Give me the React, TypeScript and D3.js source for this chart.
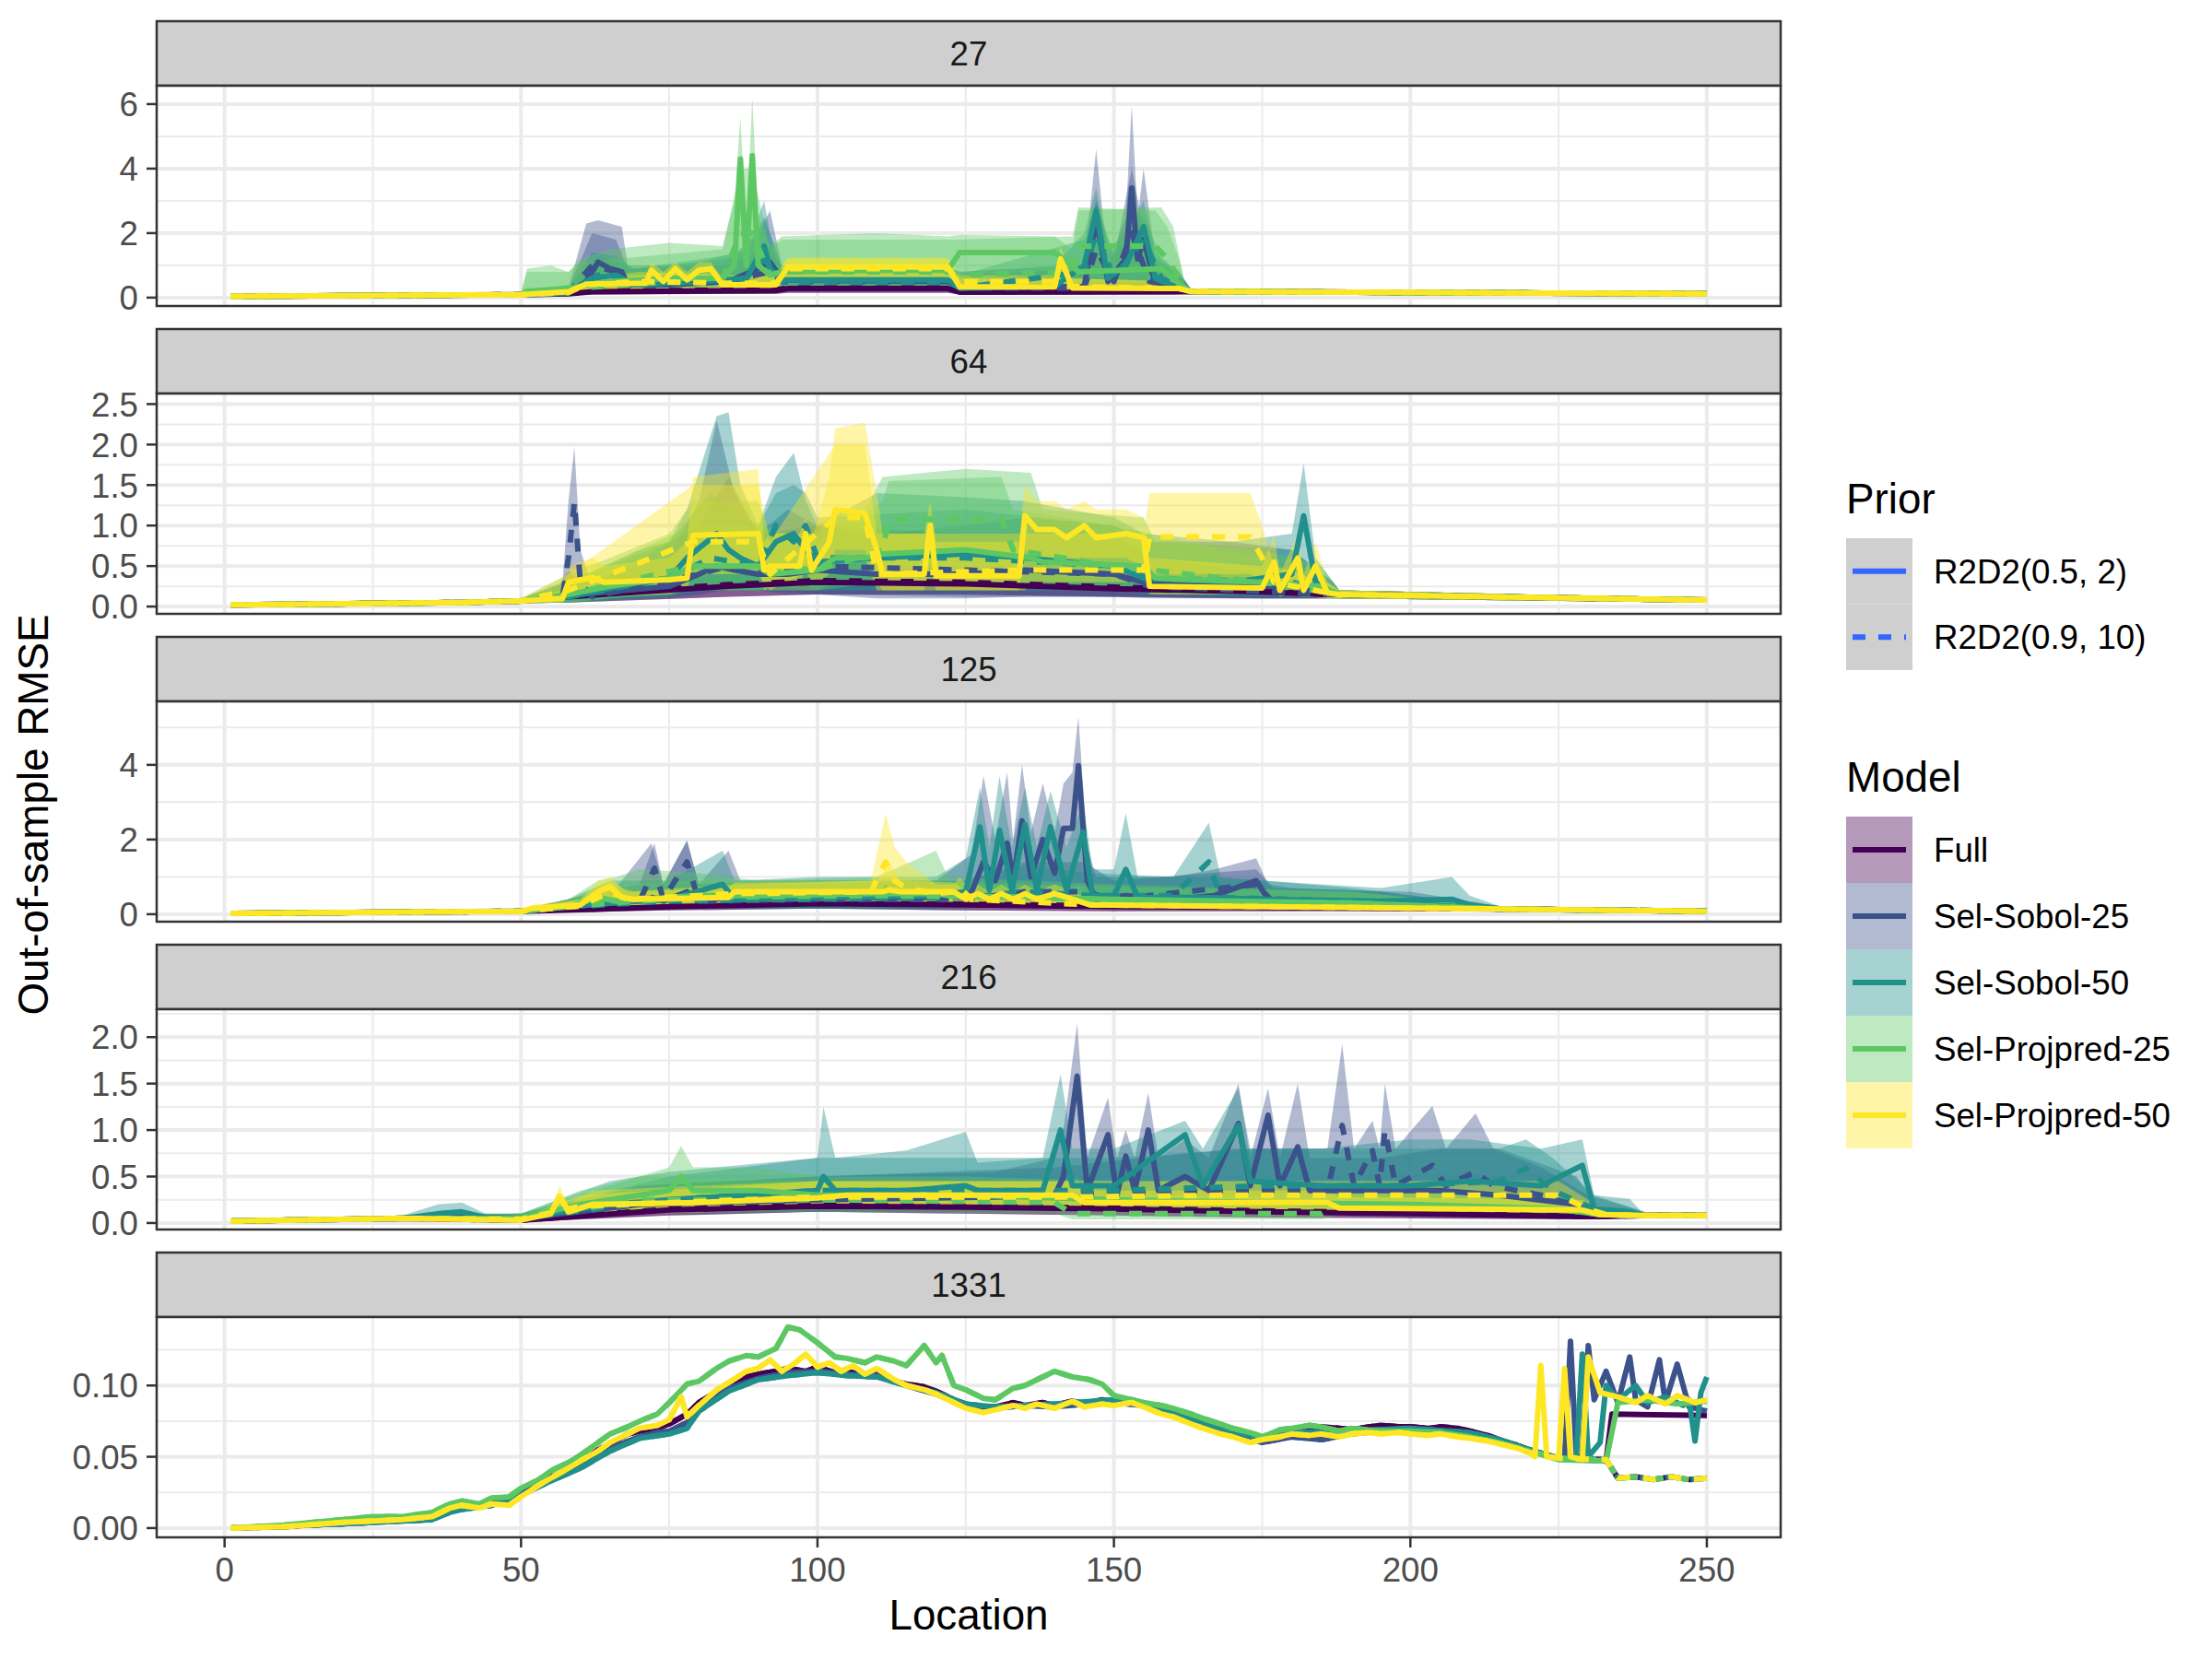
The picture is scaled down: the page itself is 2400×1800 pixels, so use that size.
import React from 'react';
import * as d3 from 'd3';

type Pt = number[];

const facets = ['27', '64', '125', '216', '1331'];
const models = ['Full', 'Sel-Sobol-25', 'Sel-Sobol-50', 'Sel-Projpred-25', 'Sel-Projpred-50'];
const modelColors = ['#440154', '#3B528B', '#21908C', '#5DC863', '#FDE725'];
const priors = ['R2D2(0.5, 2)', 'R2D2(0.9, 10)'];

const xTicks = [0, 50, 100, 150, 200, 250];
const xMinor = [25, 75, 125, 175, 225];
const yTicks = [
  [0, 2, 4, 6],
  [0, 0.5, 1, 1.5, 2, 2.5],
  [0, 2, 4],
  [0, 0.5, 1, 1.5, 2],
  [0, 0.05, 0.1],
];
const yLabels = [
  ['0', '2', '4', '6'],
  ['0.0', '0.5', '1.0', '1.5', '2.0', '2.5'],
  ['0', '2', '4'],
  ['0.0', '0.5', '1.0', '1.5', '2.0'],
  ['0.00', '0.05', '0.10'],
];
const yMinor = [
  [1, 3, 5],
  [0.25, 0.75, 1.25, 1.75, 2.25],
  [1, 3, 5],
  [0.25, 0.75, 1.25, 1.75, 2.25],
  [0.025, 0.075, 0.125],
];
const yDomains = [
  [-0.26, 6.57],
  [-0.09, 2.63],
  [-0.2, 5.7],
  [-0.07, 2.3],
  [-0.0065, 0.148],
];

// ---- facet 27 : [location, lower, estimate, upper] ----
const s27: Pt[] = [[1, .02, .04, .07], [50, .05, .09, .14]];
const e27: Pt[] = [[163, .12, .19, .27], [250, .08, .12, .16]];
const rmse27: Pt[][] = [
  // Full, R2D2(0.5, 2)
  [...s27, [58, .08, .12, .2], [62, .1, .18, .4], [93, .12, .22, .5], [95, .15, .28, .6], [122, .15, .28, .6], [124, .1, .17, .4], [160, .1, .18, .45], ...e27],
  // Full, R2D2(0.9, 10)
  [...s27, [58, .08, .13, .2], [62, .1, .2, .5], [93, .12, .24, .6], [95, .15, .3, .7], [122, .15, .3, .7], [124, .1, .18, .5], [160, .1, .2, .5], ...e27],
  // Sel-Sobol-25
  [...s27, [58, .1, .15, .3], [61, .2, .5, 2.3], [63, .3, 1.1, 2.4], [65, .3, .9, 2.3], [67, .3, .8, 2.2], [68, .2, .4, 1.0], [75, .2, .4, 1.0], [85, .2, .5, 1.2], [90, .3, .9, 2.0], [92, .3, 1.1, 2.7], [94, .3, .55, 1.0], [122, .3, .5, .95], [124, .15, .3, .8], [145, .2, .35, 1.0], [147, .3, 2.4, 4.6], [149, .2, .5, 1.0], [152, .3, 1.2, 2.5], [153, .5, 3.4, 5.95], [154, .3, 1.2, 2.5], [155, .4, 1.8, 4.0], [157, .2, .4, 1.2], [161, .15, .3, .8], ...e27],
  [...s27, [58, .1, .15, .3], [62, .3, 1.0, 2.0], [66, .3, .8, 1.8], [68, .2, .4, .9], [85, .2, .5, 1.0], [92, .3, .8, 1.6], [94, .3, .5, .9], [122, .3, .5, .9], [124, .15, .3, .7], [145, .2, .3, .9], [147, .3, 1.5, 3.0], [150, .2, .5, 1.2], [153, .4, 2.0, 4.0], [156, .2, .5, 1.2], [161, .15, .3, .7], ...e27],
  // Sel-Sobol-50
  [...s27, [58, .1, .15, .3], [62, .2, .6, 1.4], [66, .2, .7, 1.3], [69, .2, .4, .9], [80, .2, .5, 1.1], [88, .3, .6, 1.5], [91, .3, 1.6, 3.0], [92, .3, .9, 2.0], [94, .3, .55, 1.0], [122, .3, .55, 1.0], [124, .15, .3, .8], [140, .2, .35, 1.0], [145, .3, 1.0, 2.0], [147, .4, 2.7, 3.4], [149, .3, .6, 1.5], [152, .3, 1.0, 2.0], [155, .4, 2.2, 3.0], [157, .3, .6, 1.4], [161, .15, .3, .8], ...e27],
  [...s27, [58, .1, .15, .3], [63, .2, .7, 1.3], [69, .2, .4, .9], [88, .3, .6, 1.4], [91, .3, 1.2, 2.5], [94, .3, .5, .9], [122, .3, .5, .9], [124, .15, .3, .7], [145, .3, .8, 1.8], [147, .4, 2.0, 3.0], [150, .3, .6, 1.3], [155, .4, 1.8, 2.6], [158, .3, .6, 1.2], [161, .15, .3, .7], ...e27],
  // Sel-Projpred-25
  [...s27, [51, .1, .2, .9], [55, .15, .25, 1.0], [58, .15, .3, .8], [60, .2, .35, 1.2], [65, .25, .5, 1.5], [75, .3, .6, 1.7], [84, .3, .6, 1.6], [86, .4, 1.0, 3.0], [87, .8, 4.3, 5.6], [88, .6, 1.0, 2.0], [89, .9, 4.4, 6.2], [90, .5, 1.0, 2.5], [92, .3, .7, 1.6], [94, .3, .8, 1.9], [110, .3, .85, 2.0], [122, .3, .85, 1.9], [124, .5, 1.4, 1.95], [140, .5, 1.4, 1.9], [143, .3, 1.0, 1.5], [144, .3, .8, 2.7], [158, .3, .9, 2.8], [160, .2, .6, 2.2], [162, .15, .25, .4], ...e27],
  [...s27, [51, .1, .15, .8], [58, .15, .3, .8], [60, .2, .3, 1.1], [84, .3, .6, 1.5], [87, .6, 2.0, 4.0], [89, .6, 2.0, 4.0], [92, .3, .7, 1.5], [94, .3, .8, 1.8], [122, .3, .8, 1.8], [124, .3, .7, 1.8], [143, .3, .8, 1.9], [144, .5, 1.6, 2.8], [157, .5, 1.6, 2.7], [159, .4, 1.2, 2.2], [161, .2, .6, 1.2], [162, .15, .25, .4], ...e27],
  // Sel-Projpred-50
  [...s27, [58, .1, .18, .25], [61, .25, .42, .6], [71, .25, .45, .7], [72, .5, .85, 1.1], [74, .3, .5, .8], [76, .5, .9, 1.1], [78, .3, .55, .8], [80, .5, .85, 1.1], [82, .5, .9, 1.1], [84, .25, .4, .6], [93, .25, .4, .7], [95, .65, .95, 1.25], [122, .65, .95, 1.24], [124, .2, .33, .6], [140, .2, .33, .6], [141, .5, 1.2, 1.6], [143, .2, .3, .6], [161, .18, .28, .5], ...e27],
  [...s27, [58, .1, .16, .22], [61, .2, .4, .6], [70, .25, .5, .8], [84, .25, .45, .7], [93, .25, .45, .7], [95, .6, .9, 1.2], [122, .6, .9, 1.2], [124, .3, .5, .7], [140, .3, .5, .7], [142, .2, .35, .6], [161, .18, .28, .5], ...e27],
];

// ---- facet 64 ----
const s64: Pt[] = [[1, .01, .02, .03], [40, .03, .05, .07], [50, .04, .07, .1]];
const e64: Pt[] = [[188, .1, .15, .2], [250, .05, .08, .1]];
const rmse64: Pt[][] = [
  [...s64, [58, .05, .12, .2], [70, .08, .18, .3], [85, .12, .25, .4], [100, .15, .3, .45], [125, .15, .28, .42], [150, .12, .22, .35], [175, .1, .18, .3], [186, .1, .15, .25], ...e64],
  [...s64, [58, .05, .13, .22], [70, .08, .2, .32], [85, .12, .27, .42], [100, .15, .32, .48], [125, .15, .3, .45], [150, .12, .24, .38], [175, .1, .19, .32], [186, .1, .15, .25], ...e64],
  [...s64, [56, .05, .1, .2], [58, .08, .2, .45], [60, .08, .15, .3], [75, .1, .25, .6], [80, .15, .4, 1.3], [83, .2, .5, 2.3], [86, .2, .45, 1.4], [90, .2, .4, .9], [95, .15, .4, 1.2], [100, .15, .45, 1.0], [110, .1, .4, .9], [125, .1, .4, 1.0], [135, .12, .45, 1.1], [150, .12, .4, 1.0], [155, .12, .3, .8], [170, .1, .25, .8], [180, .1, .25, .7], [187, .1, .18, .3], ...e64],
  [...s64, [57, .05, .12, .3], [58, .1, .6, 1.3], [59, .3, 1.29, 1.97], [60, .1, .3, .7], [62, .07, .12, .25], [80, .15, .4, 1.0], [85, .2, .5, 1.6], [90, .2, .45, .9], [100, .15, .5, 1.0], [125, .12, .45, .9], [150, .12, .4, .9], [156, .1, .25, .6], [186, .1, .15, .3], ...e64],
  [...s64, [58, .05, .12, .3], [70, .1, .3, .7], [75, .12, .35, .8], [78, .2, .6, 1.2], [83, .3, .9, 2.35], [85, .3, .7, 2.4], [87, .2, .6, 1.5], [90, .2, .5, 1.0], [93, .25, .8, 1.6], [96, .3, .9, 1.9], [98, .25, .7, 1.3], [100, .2, .55, 1.0], [110, .2, .6, 1.4], [125, .2, .65, 1.35], [135, .2, .6, 1.3], [150, .2, .5, 1.1], [155, .15, .35, .9], [170, .12, .3, .8], [180, .12, .4, .9], [182, .4, 1.12, 1.77], [184, .12, .3, .6], [187, .1, .17, .3], ...e64],
  [...s64, [58, .05, .12, .3], [75, .12, .35, .8], [82, .2, .6, 1.4], [90, .2, .5, 1.0], [93, .3, 1.0, 1.4], [96, .3, .8, 1.5], [98, .3, 1.0, 1.4], [100, .2, .6, 1.1], [125, .2, .6, 1.2], [150, .2, .5, 1.0], [156, .15, .35, .8], [180, .12, .3, .7], [187, .1, .17, .3], ...e64],
  [...s64, [58, .05, .15, .4], [65, .1, .25, .6], [75, .15, .35, .9], [79, .2, .5, 1.3], [90, .2, .5, 1.3], [92, .2, .4, .9], [100, .2, .45, .9], [103, .3, .6, 1.2], [108, .3, .6, 1.2], [111, .3, .65, 1.6], [125, .3, .7, 1.7], [136, .3, .6, 1.65], [138, .25, .55, 1.2], [155, .25, .5, 1.1], [157, .15, .35, .8], [175, .15, .3, .7], [185, .12, .25, .5], ...e64],
  [...s64, [58, .05, .15, .3], [79, .2, .5, 1.0], [90, .2, .5, 1.0], [100, .2, .45, .8], [111, .3, .7, 1.3], [112, .5, 1.08, 1.55], [131, .5, 1.08, 1.6], [133, .3, .7, 1.2], [150, .25, .5, 1.0], [156, .2, .45, .9], [175, .15, .3, .6], ...e64],
  [...s64, [57, .05, .1, .2], [58, .12, .3, .5], [62, .12, .36, .6], [64, .12, .3, .5], [75, .15, .33, .6], [78, .2, .35, .8], [79, .5, .88, 1.6], [90, .5, .9, 1.7], [91, .2, .45, .8], [92, .25, .5, .9], [97, .25, .5, .9], [98, .5, .9, 1.1], [99, .25, .45, .8], [102, .4, .8, 1.6], [103, .7, 1.2, 2.2], [108, .7, 1.15, 2.27], [110, .3, .7, 1.4], [111, .2, .4, .9], [118, .2, .4, .9], [119, .5, 1.0, 1.3], [120, .2, .38, .8], [134, .2, .38, .8], [135, .7, 1.12, 1.5], [137, .6, .95, 1.3], [140, .6, .95, 1.3], [142, .6, .85, 1.2], [145, .6, 1.0, 1.3], [147, .6, .85, 1.2], [152, .6, .9, 1.2], [155, .5, .85, 1.1], [156, .15, .25, .6], [175, .15, .23, .5], [177, .2, .55, .9], [178, .12, .2, .4], [181, .2, .6, .9], [182, .12, .2, .4], [184, .2, .5, .8], [186, .1, .17, .3], ...e64],
  [...s64, [58, .1, .2, .4], [79, .4, .8, 1.5], [90, .4, .8, 1.5], [92, .2, .4, .8], [103, .6, 1.1, 2.0], [108, .6, 1.1, 2.0], [110, .2, .4, .9], [135, .2, .45, .9], [136, .3, .45, .9], [155, .3, .45, .9], [156, .4, .86, 1.4], [173, .4, .86, 1.4], [175, .3, .6, 1.0], [177, .15, .3, .5], [186, .1, .17, .3], ...e64],
];

// ---- facet 125 ----
const s125: Pt[] = [[1, .01, .02, .04], [50, .05, .08, .12]];
const e125: Pt[] = [[215, .08, .14, .22], [250, .05, .08, .12]];
const rmse125: Pt[][] = [
  [...s125, [60, .05, .12, .25], [75, .1, .2, .4], [100, .15, .28, .5], [125, .1, .25, .5], [150, .08, .2, .45], [175, .08, .18, .4], ...e125],
  [...s125, [60, .05, .13, .28], [75, .1, .22, .42], [100, .15, .3, .52], [125, .1, .27, .52], [150, .08, .22, .45], [175, .08, .19, .4], ...e125],
  [...s125, [58, .1, .2, .4], [66, .15, .3, .7], [72, .2, .45, 1.9], [74, .15, .35, .8], [78, .2, .6, 1.97], [80, .15, .35, .8], [85, .2, .45, 1.7], [87, .15, .4, .9], [100, .15, .45, .9], [120, .15, .45, .9], [126, .2, .6, 1.6], [128, .4, 1.4, 3.7], [130, .3, .9, 2.0], [132, .4, 1.9, 3.8], [133, .3, .9, 2.0], [134.5, .5, 2.5, 4.0], [136, .3, 1.0, 2.2], [138, .4, 2.0, 3.5], [140, .3, 1.1, 2.2], [141.5, .4, 2.3, 3.5], [143, .5, 2.3, 3.8], [144, .8, 3.98, 5.3], [145.5, .3, .9, 1.8], [147, .15, .4, 1.0], [152, .2, .5, 1.0], [160, .15, .4, 1.0], [167, .2, .5, 1.2], [174, .2, .9, 1.5], [176, .15, .4, .8], [180, .15, .3, .7], [195, .12, .25, .6], ...e125],
  [...s125, [58, .1, .2, .4], [70, .15, .35, .8], [72.5, .4, 1.23, 1.9], [74, .15, .4, .8], [78, .4, 1.4, 1.97], [80, .15, .35, .8], [100, .15, .4, .8], [125, .15, .4, .9], [135, .2, .6, 1.4], [145, .2, .6, 1.4], [150, .15, .4, .9], [174, .3, .8, 1.2], [177, .15, .3, .7], [200, .12, .25, .6], ...e125],
  [...s125, [58, .1, .2, .4], [65, .1, .3, .9], [75, .15, .4, .9], [84, .25, .8, 1.7], [86, .15, .4, .9], [100, .15, .45, 1.0], [120, .15, .5, 1.0], [125, .2, .6, 1.5], [127.4, .6, 2.34, 3.4], [129, .2, .65, 1.8], [130.7, .6, 2.25, 3.7], [132.8, .2, .65, 1.8], [135, .6, 2.4, 3.4], [137, .2, .65, 1.8], [139.3, .6, 2.34, 3.3], [142, .2, .65, 1.8], [144.8, .6, 2.2, 3.0], [146.4, .15, .5, 1.2], [150, .2, .5, 1.2], [152, .3, 1.2, 2.7], [154, .15, .45, 1.0], [165, .15, .45, 1.0], [175, .15, .4, .9], [195, .15, .35, .7], [207, .15, .4, 1.0], [210, .12, .25, .5], ...e125],
  [...s125, [58, .1, .2, .4], [75, .15, .35, .8], [100, .15, .4, .9], [125, .15, .45, .9], [135, .2, .6, 1.3], [146, .2, .5, 1.1], [160, .2, .5, 1.0], [166, .5, 1.4, 2.45], [168, .2, .45, 1.0], [190, .15, .35, .7], ...e125],
  [...s125, [58, .1, .2, .4], [63, .15, .45, .9], [66, .15, .35, 1.0], [70, .15, .4, 1.2], [80, .2, .5, 1.1], [90, .2, .5, .9], [110, .2, .55, 1.0], [120, .2, .55, 1.7], [122, .2, .5, 1.0], [135, .2, .45, .9], [150, .15, .4, .8], [170, .15, .35, .7], [190, .12, .3, .6], ...e125],
  [...s125, [58, .1, .2, .4], [65, .15, .3, .8], [80, .2, .45, .9], [110, .2, .5, .9], [135, .2, .45, .8], [160, .15, .35, .7], [190, .12, .3, .6], ...e125],
  [...s125, [52, .1, .16, .25], [60, .15, .25, .4], [63, .3, .6, .9], [65, .4, .74, 1.0], [67, .25, .45, .7], [69, .2, .4, .6], [85, .25, .45, .7], [86, .35, .6, .85], [110, .35, .6, .9], [111, .35, .6, 1.1], [112, .35, .65, 1.4], [114, .35, .6, .9], [123, .35, .6, .85], [125, .2, .4, .6], [127, .3, .55, .8], [129, .2, .4, .6], [131, .3, .55, .8], [133, .2, .4, .6], [135, .3, .55, .8], [137, .2, .4, .6], [140, .3, .55, .8], [143, .2, .4, .6], [146, .12, .25, .4], ...e125],
  [...s125, [60, .12, .22, .4], [65, .3, .6, .9], [68, .2, .4, .6], [86, .3, .55, .8], [109, .3, .6, .9], [111.5, .8, 1.4, 2.7], [113, .5, .9, 1.8], [115, .4, .7, 1.4], [120, .3, .55, .8], [123, .3, .6, .8], [124, .4, .7, 1.0], [126, .2, .4, .6], [146, .15, .25, .4], ...e125],
];

// ---- facet 216 ----
const s216: Pt[] = [[1, .01, .02, .03], [30, .03, .05, .08]];
const e216: Pt[] = [[240, .05, .08, .11], [250, .05, .08, .1]];
const rmse216: Pt[][] = [
  [...s216, [50, .01, .03, .05], [75, .08, .14, .25], [100, .12, .18, .3], [125, .1, .17, .3], [150, .08, .15, .3], [175, .06, .12, .25], [200, .05, .1, .2], [230, .04, .07, .12], ...e216],
  [...s216, [50, .01, .03, .05], [75, .08, .15, .27], [100, .12, .19, .32], [125, .1, .18, .32], [150, .08, .16, .3], [175, .06, .13, .26], [200, .05, .11, .2], [230, .04, .07, .12], ...e216],
  [...s216, [40, .03, .06, .1], [50, .02, .05, .1], [70, .1, .2, .4], [100, .12, .25, .5], [130, .12, .28, .55], [140, .15, .3, .7], [141.5, .2, .5, 1.0], [143.8, .5, 1.58, 2.15], [145.5, .15, .35, .7], [149, .3, .95, 1.35], [150.5, .15, .3, .7], [152, .25, .72, 1.0], [153.5, .15, .35, .7], [155.8, .3, 1.0, 1.4], [157.5, .15, .35, .7], [162, .2, .5, .9], [166, .15, .35, .7], [171, .3, 1.07, 1.5], [173, .15, .4, .7], [176, .3, 1.16, 1.45], [178, .15, .4, .7], [181, .25, .82, 1.5], [183, .15, .35, .7], [195, .15, .35, .7], [205, .15, .35, .8], [215, .12, .3, .8], [228, .08, .2, .5], [232, .05, .1, .15], ...e216],
  [...s216, [50, .02, .05, .1], [70, .1, .2, .4], [100, .12, .25, .5], [140, .15, .3, .6], [170, .15, .35, .8], [186, .15, .35, .8], [188.5, .35, 1.05, 1.92], [190.5, .15, .4, .8], [193.6, .25, .78, 1.1], [194.8, .15, .4, .8], [195.7, .3, 1.0, 1.5], [197.5, .15, .4, .8], [203.7, .2, .62, 1.26], [206, .15, .4, .8], [211, .2, .55, 1.18], [214, .15, .4, .8], [222, .12, .3, .6], [230, .08, .15, .3], ...e216],
  [...s216, [36, .05, .1, .2], [40, .06, .12, .22], [44, .03, .06, .1], [50, .03, .05, .1], [65, .1, .2, .45], [75, .12, .25, .55], [100, .15, .35, .7], [101, .2, .5, 1.25], [103, .15, .35, .7], [115, .15, .35, .78], [125, .15, .4, .98], [127, .15, .35, .65], [138, .15, .35, .7], [141, .3, 1.0, 1.6], [143, .15, .4, .8], [150, .15, .4, .8], [162, .3, .95, 1.1], [165, .15, .4, .8], [171, .3, 1.05, 1.45], [173, .15, .45, .8], [185, .15, .4, .8], [200, .15, .4, .9], [210, .15, .45, .9], [222, .15, .4, .8], [229, .2, .62, .9], [231, .08, .15, .3], [237, .08, .12, .26], [239, .05, .09, .12], ...e216],
  [...s216, [50, .03, .05, .1], [75, .12, .25, .5], [100, .15, .35, .7], [125, .15, .35, .7], [150, .15, .35, .7], [175, .15, .4, .8], [200, .15, .4, .8], [215, .15, .45, .8], [219.5, .2, .59, .9], [224, .15, .35, .7], [231, .08, .15, .3], ...e216],
  [...s216, [50, .02, .05, .1], [60, .1, .2, .35], [70, .12, .3, .5], [75, .15, .35, .6], [77, .2, .5, .83], [79, .15, .35, .6], [90, .15, .35, .6], [100, .15, .3, .5], [125, .15, .3, .5], [150, .12, .25, .45], [175, .1, .22, .45], [200, .1, .2, .4], [225, .08, .15, .3], [232, .05, .09, .12], ...e216],
  [...s216, [50, .02, .05, .1], [70, .1, .25, .5], [100, .12, .25, .45], [140, .1, .22, .4], [143, .04, .1, .3], [185, .04, .1, .3], [188, .08, .2, .35], [225, .08, .15, .3], [232, .05, .09, .12], ...e216],
  [...s216, [50, .02, .03, .05], [55, .05, .1, .15], [56.5, .15, .29, .4], [58, .06, .12, .2], [62, .1, .2, .35], [80, .12, .22, .4], [100, .15, .27, .45], [105, .15, .3, .45], [143, .15, .3, .45], [145, .12, .22, .35], [186, .1, .22, .35], [188, .08, .16, .28], [229, .07, .14, .25], [232, .05, .09, .12], ...e216],
  [...s216, [50, .02, .04, .06], [60, .08, .18, .3], [100, .15, .28, .45], [143, .15, .28, .45], [170, .15, .3, .45], [225, .15, .3, .45], [230, .08, .15, .25], [233, .05, .09, .12], ...e216],
];

// ---- facet 1331 : [location, estimate] (intervals too narrow to show) ----
const full1331: Pt[] = [[1, 0], [10, .001], [20, .004], [25, .006], [30, .007], [35, .009], [38, .014], [40, .016], [43, .015], [45, .018], [48, .02], [50, .026], [53, .03], [55, .036], [58, .04], [60, .046], [63, .055], [65, .059], [68, .066], [70, .068], [73, .07], [75, .073], [78, .08], [80, .088], [83, .096], [85, .101], [88, .106], [90, .108], [93, .11], [95, .112], [98, .11], [100, .113], [103, .109], [105, .11], [108, .107], [110, .108], [113, .103], [115, .101], [118, .099], [120, .096], [123, .09], [125, .087], [128, .084], [130, .085], [133, .088], [135, .086], [138, .088], [140, .086], [143, .089], [145, .087], [148, .09], [150, .089], [153, .09], [155, .087], [158, .083], [160, .081], [163, .077], [165, .074], [168, .07], [170, .068], [173, .064], [175, .062], [178, .065], [180, .068], [183, .07], [185, .071], [188, .07], [190, .069], [193, .071], [195, .072], [198, .071], [200, .071], [203, .07], [205, .071], [208, .07], [210, .068], [213, .065], [215, .062], [218, .058], [220, .055]];
const sobol25_1331: Pt[] = [[1, 0], [20, .003], [30, .005], [35, .006], [38, .012], [40, .014], [45, .016], [50, .024], [55, .034], [60, .043], [65, .056], [70, .064], [73, .067], [75, .068], [78, .074], [80, .084], [85, .098], [90, .105], [95, .109], [100, .11], [105, .108], [110, .107], [115, .1], [120, .094], [125, .086], [130, .084], [135, .086], [140, .085], [145, .087], [150, .088], [155, .086], [160, .079], [165, .072], [170, .066], [175, .06], [180, .064], [185, .062], [190, .066], [195, .068], [200, .068], [205, .067], [210, .066], [215, .061], [220, .054]];
const sobol50_1331: Pt[] = [[1, 0], [20, .003], [30, .005], [35, .006], [38, .011], [40, .013], [45, .016], [50, .023], [55, .033], [60, .042], [65, .054], [70, .063], [75, .066], [78, .07], [80, .082], [85, .096], [90, .104], [95, .107], [100, .109], [105, .107], [110, .106], [115, .1], [120, .095], [125, .087], [130, .085], [140, .087], [150, .09], [155, .087], [160, .081], [165, .074], [170, .068], [175, .063], [180, .067], [190, .068], [200, .07], [210, .067], [215, .062], [220, .055]];
const proj25_1331: Pt[] = [[1, 0], [10, .002], [20, .006], [25, .008], [30, .008], [35, .011], [38, .017], [40, .019], [43, .017], [45, .021], [48, .022], [50, .028], [53, .034], [55, .04], [58, .046], [60, .051], [63, .06], [65, .066], [68, .071], [70, .075], [73, .08], [75, .088], [78, .101], [80, .103], [83, .112], [85, .117], [88, .121], [90, .12], [93, .126], [95, .141], [97, .139], [100, .13], [103, .12], [105, .119], [108, .116], [110, .12], [113, .117], [115, .114], [118, .128], [120, .116], [121, .121], [123, .1], [125, .097], [128, .091], [130, .09], [133, .098], [135, .1], [137, .104], [140, .11], [143, .106], [146, .104], [148, .101], [150, .093], [153, .09], [155, .088], [158, .086], [160, .084], [163, .08], [165, .077], [168, .073], [170, .07], [173, .067], [175, .064], [178, .069], [180, .07], [183, .072], [185, .071], [188, .068], [190, .07], [195, .068], [200, .068], [205, .067], [210, .064], [215, .06], [220, .054]];
const proj50_1331: Pt[] = [[1, 0], [10, .001], [20, .004], [30, .006], [35, .008], [38, .014], [40, .016], [43, .014], [45, .017], [48, .016], [50, .022], [53, .03], [55, .035], [58, .042], [60, .047], [63, .054], [65, .06], [68, .066], [70, .07], [73, .072], [75, .076], [77, .092], [78, .078], [80, .086], [83, .097], [85, .102], [88, .11], [90, .112], [92, .118], [94, .11], [96, .115], [98, .122], [100, .113], [102, .116], [104, .11], [106, .114], [108, .108], [110, .112], [113, .104], [115, .1], [118, .097], [120, .094], [123, .088], [125, .084], [128, .081], [130, .083], [133, .086], [135, .084], [137, .087], [140, .084], [143, .089], [145, .085], [148, .087], [150, .086], [153, .088], [155, .085], [158, .08], [160, .078], [163, .073], [165, .07], [168, .066], [170, .064], [173, .06], [175, .062], [178, .064], [180, .066], [183, .065], [185, .066], [188, .064], [190, .066], [193, .067], [195, .066], [198, .067], [200, .066], [203, .065], [205, .066], [208, .064], [210, .063], [213, .061], [215, .059], [218, .056], [220, .053]];
const dashTail1331: Pt[] = [[225, .049], [233, .048], [235, .035], [238, .036], [241, .034], [244, .036], [247, .034], [250, .035]];
const rmse1331: Pt[][] = [
  [...full1331, [225, .049], [233, .047], [234, .08], [250, .079]],
  [...full1331, ...dashTail1331],
  [...sobol25_1331, [225, .049], [226, .048], [227, .131], [228, .05], [229, .05], [230, .128], [231, .09], [233, .11], [235, .088], [237, .12], [238, .09], [240, .085], [242, .118], [243, .088], [245, .115], [247, .085], [250, .082]],
  [...sobol25_1331, ...dashTail1331],
  [...sobol50_1331, [225, .049], [228, .05], [229, .122], [230, .05], [232, .06], [233, .1], [235, .09], [238, .1], [240, .088], [243, .092], [246, .086], [247, .09], [248, .061], [249, .095], [250, .106]],
  [...sobol50_1331, ...dashTail1331],
  [...proj25_1331, [225, .048], [233, .047], [235, .088], [240, .09], [245, .087], [250, .089]],
  [...proj25_1331, ...dashTail1331],
  [...proj50_1331, [221, .05], [222, .114], [223, .05], [225, .049], [226, .112], [227, .05], [229, .048], [230, .12], [232, .095], [235, .092], [238, .088], [240, .093], [243, .087], [245, .093], [248, .088], [250, .09]],
  [...proj50_1331, ...dashTail1331],
];

const panelData = [rmse27, rmse64, rmse125, rmse216, rmse1331];

// ---- layout ----
const W = 2400;
const H = 1800;
const LEFT = 170;
const RIGHT = 1932;
const TOP0 = 93;
const PANEL_H = 239;
const STRIP_H = 70;
const STEP = 334;
const FONT = '"Liberation Sans", Arial, Helvetica, sans-serif';
const SMALL = 36.7;
const BIG = 45.8;
const LW = 6;
const DASH = '14,14';

const x = d3.scaleLinear().domain([-11.45, 262.45]).range([LEFT, RIGHT]);

const lo = (d: Pt) => d[1];
const mid = (d: Pt) => (d.length > 2 ? d[2] : d[1]);
const hi = (d: Pt) => (d.length > 2 ? d[3] : d[1]);

function Panel({ i }: { i: number }) {
  const top = TOP0 + i * STEP;
  const bottom = top + PANEL_H;
  const y = d3.scaleLinear().domain(yDomains[i]).range([bottom, top]);
  const area = d3.area<Pt>().x((d) => x(d[0])).y0((d) => y(lo(d))).y1((d) => y(hi(d)));
  const line = d3.line<Pt>().x((d) => x(d[0])).y((d) => y(mid(d)));
  const series = panelData[i];
  const clipId = `clip${i}`;
  return (
    <g>
      <defs>
        <clipPath id={clipId}>
          <rect x={LEFT} y={top} width={RIGHT - LEFT} height={PANEL_H} />
        </clipPath>
      </defs>
      {/* strip */}
      <rect x={LEFT} y={top - STRIP_H} width={RIGHT - LEFT} height={STRIP_H} fill="#CFCFCF" stroke="#333333" strokeWidth={2.5} />
      <text x={(LEFT + RIGHT) / 2} y={top - STRIP_H / 2} dy="0.36em" textAnchor="middle" fontSize={SMALL} fill="#1A1A1A">
        {facets[i]}
      </text>
      {/* grid */}
      <rect x={LEFT} y={top} width={RIGHT - LEFT} height={PANEL_H} fill="#FFFFFF" />
      <g clipPath={`url(#${clipId})`}>
        {yMinor[i].map((t) => (
          <line key={'ym' + t} x1={LEFT} x2={RIGHT} y1={y(t)} y2={y(t)} stroke="#EBEBEB" strokeWidth={2} />
        ))}
        {xMinor.map((t) => (
          <line key={'xm' + t} x1={x(t)} x2={x(t)} y1={top} y2={bottom} stroke="#EBEBEB" strokeWidth={2} />
        ))}
        {yTicks[i].map((t) => (
          <line key={'y' + t} x1={LEFT} x2={RIGHT} y1={y(t)} y2={y(t)} stroke="#EBEBEB" strokeWidth={4} />
        ))}
        {xTicks.map((t) => (
          <line key={'x' + t} x1={x(t)} x2={x(t)} y1={top} y2={bottom} stroke="#EBEBEB" strokeWidth={4} />
        ))}
        {/* ribbons */}
        {series.map((s, k) => (
          <path key={'r' + k} d={area(s) || ''} fill={modelColors[Math.floor(k / 2)]} fillOpacity={0.4} stroke="none" />
        ))}
        {/* lines */}
        {series.map((s, k) => (
          <path
            key={'l' + k}
            d={line(s) || ''}
            fill="none"
            stroke={modelColors[Math.floor(k / 2)]}
            strokeWidth={LW}
            strokeDasharray={k % 2 === 1 ? DASH : undefined}
            strokeLinejoin="round"
          />
        ))}
      </g>
      <rect x={LEFT} y={top} width={RIGHT - LEFT} height={PANEL_H} fill="none" stroke="#333333" strokeWidth={2.5} />
      {/* y axis */}
      {yTicks[i].map((t, j) => (
        <g key={'yt' + t}>
          <line x1={LEFT - 11} x2={LEFT} y1={y(t)} y2={y(t)} stroke="#333333" strokeWidth={2.5} />
          <text x={LEFT - 20} y={y(t)} dy="0.36em" textAnchor="end" fontSize={SMALL} fill="#4D4D4D">
            {yLabels[i][j]}
          </text>
        </g>
      ))}
      {/* x axis on the bottom facet */}
      {i === facets.length - 1 &&
        xTicks.map((t) => (
          <g key={'xt' + t}>
            <line x1={x(t)} x2={x(t)} y1={bottom} y2={bottom + 11} stroke="#333333" strokeWidth={2.5} />
            <text x={x(t)} y={bottom + 48} textAnchor="middle" fontSize={SMALL} fill="#4D4D4D">
              {t}
            </text>
          </g>
        ))}
    </g>
  );
}

function Legend() {
  const kx = 2003;
  const kw = 72;
  const kh = 71.5;
  const py = 584;
  const my = 886;
  return (
    <g>
      <text x={kx} y={557} fontSize={BIG} fill="#000000">Prior</text>
      {priors.map((p, j) => (
        <g key={p}>
          <rect x={kx} y={py + j * kh} width={kw} height={kh} fill="#CFCFCF" />
          <line
            x1={kx + 7}
            x2={kx + kw - 7}
            y1={py + j * kh + kh / 2}
            y2={py + j * kh + kh / 2}
            stroke="#3366FF"
            strokeWidth={LW}
            strokeDasharray={j === 1 ? DASH : undefined}
          />
          <text x={2098} y={py + j * kh + kh / 2} dy="0.36em" fontSize={SMALL} fill="#000000">
            {p}
          </text>
        </g>
      ))}
      <text x={kx} y={859} fontSize={BIG} fill="#000000">Model</text>
      {models.map((m, j) => (
        <g key={m}>
          <rect x={kx} y={my + j * 72} width={kw} height={72} fill={modelColors[j]} fillOpacity={0.4} />
          <line x1={kx + 7} x2={kx + kw - 7} y1={my + j * 72 + 36} y2={my + j * 72 + 36} stroke={modelColors[j]} strokeWidth={LW} />
          <text x={2098} y={my + j * 72 + 36} dy="0.36em" fontSize={SMALL} fill="#000000">
            {m}
          </text>
        </g>
      ))}
    </g>
  );
}

export default function App() {
  return (
    <div style={{ width: W, height: H }}>
      <style>{'body{margin:0}'}</style>
      <svg width={W} height={H} viewBox={`0 0 ${W} ${H}`} style={{ display: 'block', fontFamily: FONT }}>
        <rect x={0} y={0} width={W} height={H} fill="#FFFFFF" />
        {facets.map((f, i) => (
          <Panel key={f} i={i} />
        ))}
        <text x={(LEFT + RIGHT) / 2} y={1768} textAnchor="middle" fontSize={BIG} fill="#000000">
          Location
        </text>
        <text transform="translate(52,884) rotate(-90)" textAnchor="middle" fontSize={BIG} fill="#000000">
          Out-of-sample RMSE
        </text>
        <Legend />
      </svg>
    </div>
  );
}
